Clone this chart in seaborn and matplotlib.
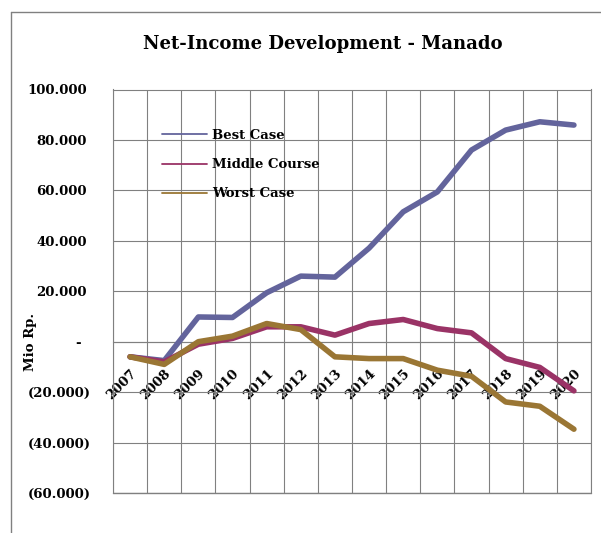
import numpy as np
import pandas as pd
import seaborn as sns
import matplotlib
matplotlib.use("Agg")
import matplotlib.pyplot as plt
import matplotlib.transforms as mtransforms
from matplotlib.lines import Line2D

# Net income per scenario (million Rupiah), one value per year
years = [2007, 2008, 2009, 2010, 2011, 2012, 2013,
         2014, 2015, 2016, 2017, 2018, 2019, 2020]
best_case = [-6000, -7500, 9800, 9600, 19400, 26000, 25600,
             37100, 51500, 59400, 76000, 83900, 87200, 85900]
middle_course = [-6000, -8000, -1000, 1300, 5900, 5900, 2600,
                 7200, 8800, 5200, 3500, -6700, -10200, -19500]
worst_case = [-6000, -9000, 0, 2200, 7200, 4800, -6000,
              -6700, -6700, -11300, -13700, -23900, -25600, -34700]

series_names = ["Best Case", "Middle Course", "Worst Case"]
series_colors = ["#63649C", "#9A3366", "#9A7634"]
y_ticks = [100000, 80000, 60000, 40000, 20000, 0,
           -20000, -40000, -60000]
title_text = "Net-Income Development - Manado"
y_title = "Mio Rp."

df = pd.DataFrame({
    "year": years * 3,
    "value": best_case + middle_course + worst_case,
    "scenario": [n for n in series_names for _ in years],
})

sns.set_theme(style="white")
plt.rcParams["font.family"] = ["DejaVu Serif"]
plt.rcParams["font.weight"] = "bold"
for key in ("text.color", "axes.labelcolor", "xtick.labelcolor", "ytick.labelcolor"):
    plt.rcParams[key] = "black"

W, H = 601, 533
fig = plt.figure(figsize=(W / 100, H / 100), dpi=100)
fig.patch.set_facecolor("white")

# plot area in pixel coordinates
px_l, px_r, px_t, px_b = 113, 591, 89.5, 493
ax = fig.add_axes([px_l / W, 1 - px_b / H, (px_r - px_l) / W, (px_b - px_t) / H])
ax.set_facecolor("white")

grid_c = "#808080"

sns.lineplot(data=df, x="year", y="value", hue="scenario",
             hue_order=series_names, palette=series_colors,
             linewidth=4.0, ax=ax, legend=True, sort=False,
             solid_capstyle="round", solid_joinstyle="round", zorder=3)

ax.set_xlim(years[0] - 0.5, years[-1] + 0.5)
ax.set_ylim(y_ticks[-1], y_ticks[0])

# category boundaries carry the vertical grid
ax.set_xticks(years)
ax.set_xticks([y - 0.5 for y in years] + [years[-1] + 0.5], minor=True)
ax.grid(False)
ax.xaxis.grid(True, which="minor", color=grid_c, linewidth=0.8)
ax.set_yticks(y_ticks)
ax.yaxis.grid(True, which="major", color=grid_c, linewidth=0.8)
ax.tick_params(axis="x", which="both", length=0)


def fmt(v):
    if v == 0:
        return "-"
    s = f"{abs(v):,.0f}".replace(",", ".")
    return f"({s})" if v < 0 else s


ax.set_yticklabels([fmt(v) for v in y_ticks])
ax.tick_params(axis="y", which="major", length=3, width=0.8,
               color=grid_c, pad=13, labelsize=9.5, labelcolor="black")
for v, lab in zip(y_ticks, ax.get_yticklabels()):
    lab.set_fontweight("bold")
    if v == 0:
        shift = -10
    elif v > 0:
        shift = -4
    else:
        shift = 0
    if shift:
        lab.set_transform(lab.get_transform() +
                          mtransforms.ScaledTranslation(shift / 100, 0, fig.dpi_scale_trans))

# category axis crosses at zero
ax.spines["bottom"].set_position(("data", 0))
for sp in ax.spines.values():
    sp.set_color(grid_c)
    sp.set_linewidth(0.8)
ax.axhline(y_ticks[-1], color=grid_c, linewidth=1.0, clip_on=False, zorder=2)

ax.set_xticklabels([str(y) for y in years])
ax.tick_params(axis="x", pad=18, labelsize=9.5, labelcolor="black")
for lab in ax.get_xticklabels():
    lab.set_rotation(45)
    lab.set_rotation_mode("anchor")
    lab.set_ha("right")
    lab.set_va("top")
    lab.set_fontweight("bold")

ax.set_xlabel("")
ax.set_ylabel(y_title, fontsize=9.5, fontweight="bold", color="black")
ax.yaxis.set_label_coords((37 - px_l) / (px_r - px_l), (px_b - 342) / (px_b - px_t))

# legend with thin sample lines
handles = [Line2D([], [], color=c, linewidth=1.3) for c in series_colors]
leg = ax.legend(handles, series_names, loc="upper left",
                bbox_to_anchor=(162 / W, 1 - 129 / H), bbox_transform=fig.transFigure,
                frameon=False, fontsize=9.5, handlelength=3.4, handletextpad=0.4,
                labelspacing=1.23, borderpad=0, borderaxespad=0)
for t in leg.get_texts():
    t.set_fontweight("bold")
    t.set_color("black")

fig.text(323 / W, 1 - 44 / H, title_text, ha="center", va="center",
         fontsize=13.1, fontweight="bold", color="black")

# outer chart frame (left and top edges)
fig.add_artist(Line2D([11 / W, 11 / W], [0, 1 - 11.5 / H], transform=fig.transFigure,
                      color=grid_c, linewidth=1.0))
fig.add_artist(Line2D([11 / W, 1], [1 - 11.5 / H, 1 - 11.5 / H], transform=fig.transFigure,
                      color=grid_c, linewidth=1.0))

fig.savefig("out.png", dpi=100)
